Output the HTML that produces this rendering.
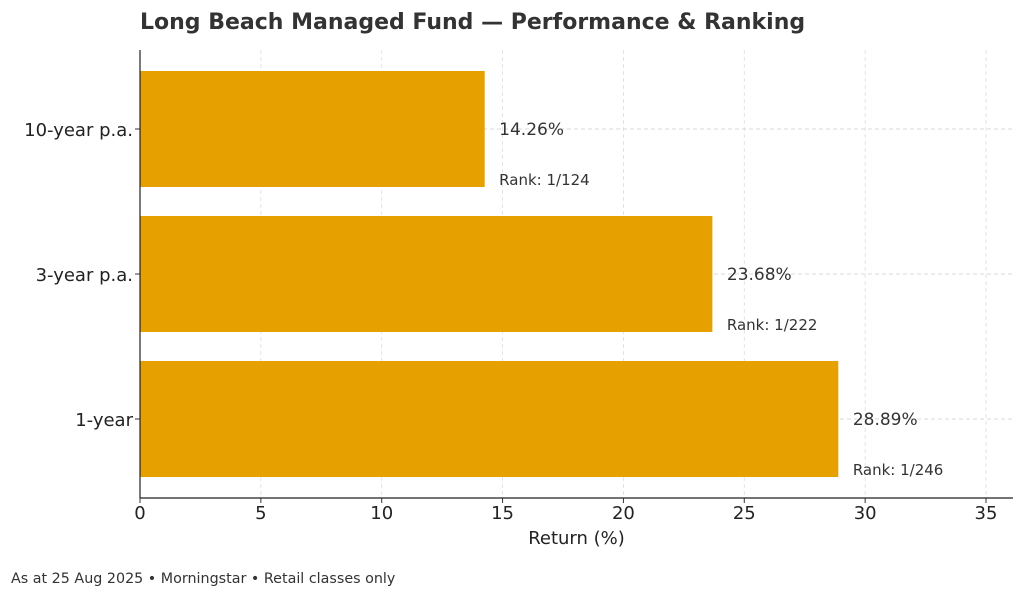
<!DOCTYPE html>
<html><head><meta charset="utf-8"><style>
body{margin:0;background:#fff;}
svg{display:block;font-family:"DejaVu Sans","Liberation Sans",sans-serif;}
</style></head><body>
<svg width="1024" height="597">
<text x="140" y="29" font-size="22" font-weight="bold" fill="#333">Long Beach Managed Fund — Performance &amp; Ranking</text>
<g id="grid"></g>
<g id="bars"></g>
<g id="axes"></g>
<text x="11" y="583" font-size="14.3" fill="#333">As at 25 Aug 2025 • Morningstar • Retail classes only</text>
</svg>
<script>
const categories=["10-year p.a.","3-year p.a.","1-year"];
const returns=[14.26,23.68,28.89];
const ranks=["1/124","1/222","1/246"];
const xTicks=[0,5,10,15,20,25,30,35];
{
const NS="http://www.w3.org/2000/svg";
const x0=140,pxPer=(986-140)/35,plotTop=50,plotBottom=498,plotRight=1013;
const xs=v=>x0+v*pxPer;
const ys=i=>129+i*145;
const barH=116;
function mk(tag,attrs,parent){const e=document.createElementNS(NS,tag);for(const k in attrs)e.setAttribute(k,attrs[k]);parent.appendChild(e);return e;}
const grid=document.getElementById('grid'),bars=document.getElementById('bars'),axes=document.getElementById('axes');
xTicks.forEach(t=>{
 const l=mk('line',{x1:xs(t),x2:xs(t),y1:plotTop,y2:plotBottom,stroke:'#ddd','stroke-dasharray':'4,3','stroke-width':0.8},grid);
 
 
 const tk=mk('line',{x1:xs(t),x2:xs(t),y1:plotBottom,y2:plotBottom+5,stroke:'#333'},axes);
 
 
 const tx=mk('text',{x:xs(t),y:plotBottom+21,'font-size':18,'text-anchor':'middle',fill:'#222'},axes);
 tx.textContent=t;
 
 
});
categories.forEach((c,i)=>{
 const y=ys(i);
 const g=mk('line',{x1:x0,x2:plotRight,y1:y,y2:y,stroke:'#ccc','stroke-dasharray':'4,3','stroke-width':0.8},grid);
 
 
 const r=mk('rect',{x:x0,y:y-barH/2,width:xs(returns[i])-x0,height:barH,fill:'#e6a000'},bars);
 
 
 const v=mk('text',{x:xs(returns[i]+0.6),y:y+6,'font-size':17,fill:'#333'},bars);
 v.textContent=returns[i].toFixed(2)+'%';
 
 
 const rk=mk('text',{x:xs(returns[i]+0.6),y:y+56,'font-size':15,fill:'#333'},bars);
 rk.textContent='Rank: '+ranks[i];
 
 
 const tk=mk('line',{x1:x0-5,x2:x0,y1:y,y2:y,stroke:'#333'},axes);
 
 
 const yl=mk('text',{x:x0-7,y:y+7,'font-size':18,'text-anchor':'end',fill:'#222'},axes);
 yl.textContent=c;
 
 
});
const ya=mk('line',{x1:x0,x2:x0,y1:plotTop,y2:plotBottom,stroke:'#222','stroke-width':1.2},axes);


const xa=mk('line',{x1:x0,x2:plotRight,y1:plotBottom,y2:plotBottom,stroke:'#222','stroke-width':1.2},axes);


const xt=mk('text',{x:(x0+plotRight)/2,y:544,'font-size':18,'text-anchor':'middle',fill:'#222'},axes);
xt.textContent='Return (%)';


}
</script>
</body></html>
